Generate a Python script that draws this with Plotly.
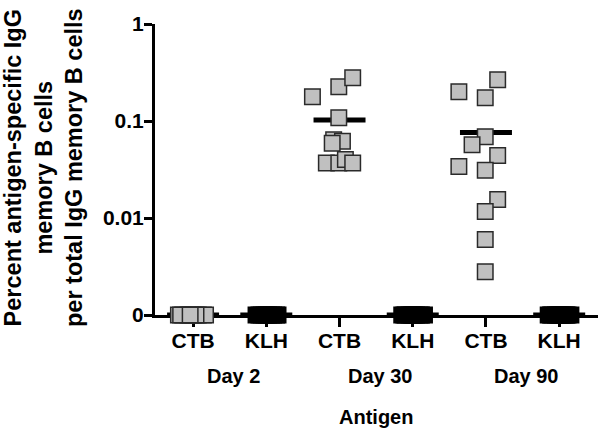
import plotly.graph_objects as go

# ---- data ----
antigens = ["CTB", "KLH", "CTB", "KLH", "CTB", "KLH"]
days = ["Day 2", "Day 30", "Day 90"]
y_tick_labels = ["0", "0.01", "0.1", "1"]

day2_ctb = [0, 0, 0, 0, 0, 0, 0, 0, 0, 0]
day2_klh = [0, 0, 0, 0, 0, 0, 0, 0, 0, 0]
day30_ctb = [0.178, 0.225, 0.279, 0.108, 0.064, 0.062, 0.059, 0.037, 0.037, 0.040, 0.037]
day30_klh = [0, 0, 0, 0, 0, 0, 0, 0, 0, 0, 0]
day90_ctb = [0.200, 0.266, 0.174, 0.069, 0.057, 0.044, 0.034, 0.031, 0.0155, 0.0117, 0.0060, 0.0028]
day90_klh = [0, 0, 0, 0, 0, 0, 0, 0, 0, 0, 0, 0]

# ---- layout helpers (positions / styles, not data) ----
ZERO = 0.001  # where "0" sits on the broken log axis
jitter = {
    0: [-0.20, -0.14, -0.07, 0.0, 0.07, 0.14, 0.17, -0.17, 0.04, -0.04],
    1: [-0.14, -0.07, 0.0, 0.07, 0.14, 0.16, -0.10, 0.10, 0.03, -0.03],
    2: [-0.37, -0.01, 0.18, -0.01, -0.08, 0.04, -0.10, -0.18, -0.01, 0.08, 0.18],
    3: [-0.15, -0.10, -0.05, 0.0, 0.05, 0.10, 0.16, -0.12, 0.12, 0.02, -0.02],
    4: [-0.37, 0.16, -0.01, -0.01, -0.19, 0.16, -0.37, -0.01, 0.16, -0.01, -0.01, -0.01],
    5: [-0.15, -0.10, -0.05, 0.0, 0.05, 0.10, 0.16, -0.12, 0.12, 0.02, -0.02, 0.08],
}
series = [day2_ctb, day2_klh, day30_ctb, day30_klh, day90_ctb, day90_klh]
FONT = "Liberation Sans, Arial, sans-serif"

fig = go.Figure()

# mean lines (drawn first, beneath markers)
for gi, vals in enumerate(series):
    m = sum(vals) / len(vals)
    m = m if m > 0 else ZERO
    fig.add_trace(go.Scatter(
        x=[gi - 0.355, gi + 0.355], y=[m, m], mode="lines",
        line=dict(color="black", width=5), hoverinfo="skip", showlegend=False,
        cliponaxis=False,
    ))

for gi, vals in enumerate(series):
    is_klh = antigens[gi] == "KLH"
    xs = [gi + jitter[gi][k] for k in range(len(vals))]
    ys = [v if v > 0 else ZERO for v in vals]
    fig.add_trace(go.Scatter(
        x=xs, y=ys, mode="markers", showlegend=False, cliponaxis=False,
        marker=dict(
            symbol="square", size=15.5,
            color="black" if is_klh else "#c0c0c0",
            line=dict(color="black" if is_klh else "#2a2a2a", width=1.5),
        ),
    ))

annotations = []
for di, d in enumerate(days):
    annotations.append(dict(
        x=2 * di + 0.5, xref="x", xshift=4, y=-0.21, yref="paper",
        text=d, showarrow=False, xanchor="center", yanchor="middle",
        font=dict(family=FONT, size=20, color="black", weight="bold"),
    ))
annotations.append(dict(
    x=2.5, xref="x", y=-0.35, yref="paper", text="Antigen", showarrow=False,
    xanchor="center", yanchor="middle",
    font=dict(family=FONT, size=20, color="black", weight="bold"),
))
annotations.append(dict(
    x=0, xref="paper", xshift=-112, y=0.505, yref="paper", textangle=-90,
    text="Percent antigen-specific IgG<br>memory B cells<br>per total IgG memory B cells",
    showarrow=False, xanchor="center", yanchor="middle", align="center",
    font=dict(family=FONT, size=23.5, color="black", weight="bold"),
))

fig.update_layout(
    width=600, height=433,
    margin=dict(l=155, r=2, t=24, b=118),
    paper_bgcolor="white", plot_bgcolor="white",
    annotations=annotations,
    xaxis=dict(
        range=[-0.52, 5.53], tickmode="array", tickvals=list(range(6)),
        ticktext=antigens, showline=True, linecolor="black", linewidth=3,
        ticks="outside", ticklen=9, tickwidth=3, tickcolor="black",
        showgrid=False, zeroline=False, layer="below traces",
        ticklabelstandoff=-4,
        tickfont=dict(family=FONT, size=21, color="black", weight="bold"),
    ),
    yaxis=dict(
        type="log", range=[-3, 0], tickmode="array",
        tickvals=[ZERO, 0.01, 0.1, 1], ticktext=y_tick_labels,
        showline=True, linecolor="black", linewidth=3,
        ticks="outside", ticklen=8, tickwidth=3, tickcolor="black",
        showgrid=False, zeroline=False, layer="below traces",
        ticklabelstandoff=-4,
        tickfont=dict(family=FONT, size=21, color="black", weight="bold"),
    ),
)

fig.write_html(
    "out.html",
    config={"displayModeBar": False},
    post_script="document.body.style.margin='0px';",
)
